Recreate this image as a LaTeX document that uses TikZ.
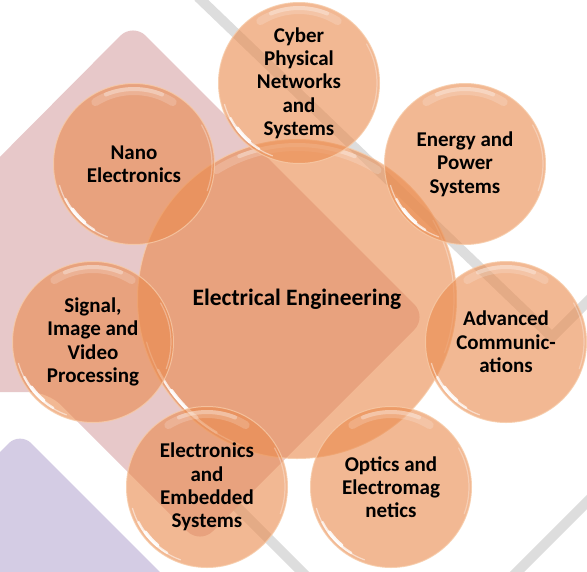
\documentclass[tikz,border=0pt]{standalone}
\usepackage{fontspec}
\setmainfont{Carlito}
\usetikzlibrary{calc}
\definecolor{pinkbg}{HTML}{E7C8C9}
\definecolor{lavbg}{HTML}{D4CCE4}
\definecolor{stripecol}{HTML}{DDDDDD}
\definecolor{bub}{HTML}{EA8A4C}
\definecolor{rim}{HTML}{F7CBA8}
\tikzset{
  bubble/.style={circle, fill=bub, fill opacity=0.6, draw=rim, draw opacity=0.8,
    line width=1pt, inner sep=0pt, minimum size=161pt, align=center,
    text opacity=1, text=black, font=\bfseries\fontsize{21}{23.3}\selectfont},
  hub/.style={bubble, minimum size=319pt, font=\bfseries\fontsize{23.5}{28}\selectfont},
  glow/.style={white, line cap=round},
  bgstripe/.style={stripecol, line width=10pt},
}
% #1 node name, #2 radius
\newcommand\gloss[2]{%
  \draw[glow, opacity=0.18, line width=8pt] ($(#1.center)+(238:#2-8)$) arc[start angle=238, end angle=302, radius=#2-8];
  \draw[glow, opacity=0.3, line width=4pt] ($(#1.center)+(248:#2-6)$) arc[start angle=248, end angle=292, radius=#2-6];
  \draw[glow, opacity=0.5, line width=1.2pt] ($(#1.center)+(110:#2-3.5)$) arc[start angle=110, end angle=164, radius=#2-3.5];
  \draw[glow, opacity=0.7, line width=2.4pt] ($(#1.center)+(121:#2-4)$) arc[start angle=121, end angle=153, radius=#2-4];
  \draw[glow, opacity=0.85, line width=3.6pt] ($(#1.center)+(130:#2-4.5)$) arc[start angle=130, end angle=144, radius=#2-4.5];
  \draw[glow, opacity=0.3, line width=1.2pt] ($(#1.center)+(-30:#2-3)$) arc[start angle=-30, end angle=20, radius=#2-3];
}
\begin{document}
\begin{tikzpicture}[x=1pt, y=-1pt]
\useasboundingbox (0,0) rectangle (587,571);
\clip (0,0) rectangle (587,571);
\fill[white] (0,0) rectangle (587,571);
% background decoration
\draw[bgstripe] (198,-3) -- (552,337) -- (600,289);
\draw[bgstripe] (600,489) -- (510,579);
\draw[bgstripe] (150,420) -- (320,590);
\fill[lavbg, rounded corners=16pt] (20,432) -- (200,612) -- (20,792) -- (-160,612) -- cycle;
\fill[pinkbg, rounded corners=18pt] (133,23) -- (427,317) -- (200,544) -- (48,392) -- (-30,392) -- (-30,187) -- cycle;
% hub
\node[hub] (ee) at (297,299) {Electrical Engineering};
\gloss{ee}{160}
% satellites
\node[bubble] (cyber) at (299,83) {Cyber\\Physical\\Networks\\and\\Systems};
\gloss{cyber}{81}
\node[bubble] (energy) at (465,164) {Energy and\\Power\\Systems};
\gloss{energy}{81}
\node[bubble] (comm) at (506,342) {Advanced\\Communic-\\ations};
\gloss{comm}{81}
\node[bubble] (optics) at (391,487) {Optics and\\Electromag\\netics};
\gloss{optics}{81}
\node[bubble] (embedded) at (207,487) {Electronics\\and\\Embedded\\Systems};
\gloss{embedded}{81}
\node[bubble] (signal) at (93,342) {Signal,\\Image and\\Video\\Processing};
\gloss{signal}{81}
\node[bubble] (nano) at (134,164) {Nano\\Electronics};
\gloss{nano}{81}
\end{tikzpicture}
\end{document}
